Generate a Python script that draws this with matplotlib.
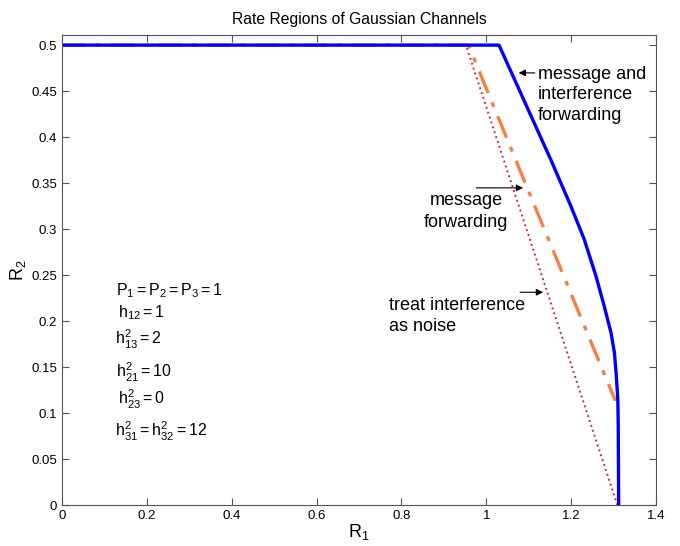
import numpy as np
from matplotlib import pyplot as plt

plt.rcParams['font.family'] = ['Liberation Sans', 'DejaVu Sans']
plt.rcParams['mathtext.fontset'] = 'custom'
plt.rcParams['mathtext.rm'] = 'Liberation Sans'
plt.rcParams['mathtext.it'] = 'Liberation Sans'

# message and interference forwarding (blue)
r1_mif = [0.0, 1.03, 1.152, 1.1995, 1.231, 1.2586, 1.278, 1.286, 1.294,
          1.302, 1.306, 1.31, 1.311, 1.312]
r2_mif = [0.5, 0.5, 0.3755, 0.3248, 0.2886, 0.2487, 0.2161, 0.2016, 0.1872,
          0.1654, 0.1437, 0.1147, 0.0857, 0.0]

# message forwarding (orange dash-dot)
r1_mf = [0.0, 0.958, 1.101, 1.303, 1.31]
r2_mf = [0.5, 0.5, 0.3397, 0.1147, 0.1147]

# treat interference as noise (red dotted)
r1_tin = [0.0, 0.952, 1.309]
r2_tin = [0.5, 0.5, 0.0]

params = [r'$\mathregular{P_1 = P_2 = P_3 = 1}$',
          r'$\mathregular{h_{12} = 1}$',
          r'$\mathregular{h^2_{13} = 2}$',
          r'$\mathregular{h^2_{21} = 10}$',
          r'$\mathregular{h^2_{23} = 0}$',
          r'$\mathregular{h^2_{31} = h^2_{32} = 12}$']
param_y = [0.228, 0.204, 0.174, 0.139, 0.109, 0.075]
param_x = [0.127, 0.131, 0.125, 0.127, 0.131, 0.125]

fig = plt.figure(figsize=(6.8, 5.46), dpi=100)
ax = fig.add_axes([62/680, 41/546, 594/680, 470/546])

ax.plot(r1_tin, r2_tin, ':', color='#d7263d', linewidth=1.4)
ax.plot(r1_mf, r2_mf, '-.', color='#f77f45', linewidth=2.4, dashes=(7, 3, 1.5, 3))
ax.plot(r1_mif, r2_mif, '-', color='#0000ff', linewidth=2.4)

ax.set_xlim(0, 1.4)
ax.set_ylim(0, 0.511)
ax.set_xticks(np.arange(0, 1.41, 0.2))
ax.set_xticklabels(['0', '0.2', '0.4', '0.6', '0.8', '1', '1.2', '1.4'])
ax.set_yticks(np.arange(0, 0.51, 0.05))
ax.set_yticklabels(['0', '0.05', '0.1', '0.15', '0.2', '0.25', '0.3', '0.35', '0.4', '0.45', '0.5'])
ax.tick_params(direction='in', top=True, right=True, labelsize=9.5, length=5, color='#555555')
for s in ax.spines.values():
    s.set_color('#555555')

ax.set_title('Rate Regions of Gaussian Channels', fontsize=11.3, pad=8)
ax.set_xlabel(r'$\mathregular{R_1}$', fontsize=13, labelpad=0)
ax.set_ylabel(r'$\mathregular{R_2}$', fontsize=13, labelpad=2)

arr = dict(arrowstyle='-|>', color='black', linewidth=0.8, mutation_scale=10)

# message and interference forwarding
ax.annotate('', xy=(1.0697, 0.4698), xytext=(1.121, 0.4698), arrowprops=arr)
ax.text(1.1216, 0.4633, 'message and', fontsize=13, ha='left', va='baseline')
ax.text(1.1216, 0.4414, 'interference', fontsize=13, ha='left', va='baseline')
ax.text(1.1216, 0.4182, 'forwarding', fontsize=13, ha='left', va='baseline')

# message forwarding
ax.annotate('', xy=(1.0933, 0.3448), xytext=(0.970, 0.3448), arrowprops=arr)
ax.text(0.952, 0.3266, 'message', fontsize=13, ha='center', va='baseline')
ax.text(0.952, 0.3020, 'forwarding', fontsize=13, ha='center', va='baseline')

# treat interference as noise
ax.annotate('', xy=(1.1405, 0.2313), xytext=(1.073, 0.2313), arrowprops=arr)
ax.text(0.770, 0.2125, 'treat interference', fontsize=13, ha='left', va='baseline')
ax.text(0.770, 0.1890, 'as noise', fontsize=13, ha='left', va='baseline')

for x, y, s in zip(param_x, param_y, params):
    ax.text(x, y, s, fontsize=11.5, ha='left', va='baseline')

fig.savefig('out.png', dpi=100)
